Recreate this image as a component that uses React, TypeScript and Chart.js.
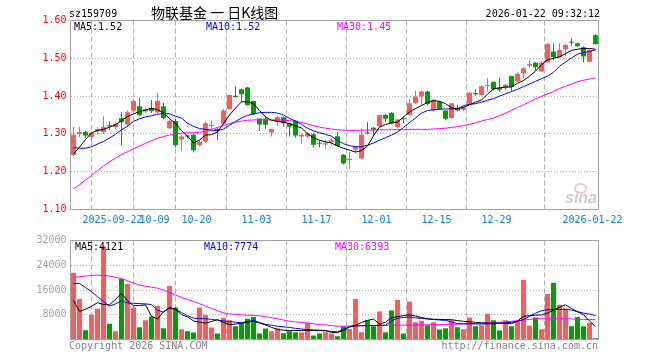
import React, { useEffect, useRef } from "react";
import { Chart, registerables } from "chart.js";

Chart.register(...registerables);

// ---------------- data ----------------
const DATES = [
  "2025-09-11","2025-09-12","2025-09-15","2025-09-16","2025-09-17","2025-09-18","2025-09-19",
  "2025-09-22","2025-09-23","2025-09-24","2025-09-25","2025-09-26","2025-09-29","2025-09-30",
  "2025-10-09","2025-10-10","2025-10-13","2025-10-14","2025-10-15","2025-10-16","2025-10-17",
  "2025-10-20","2025-10-21","2025-10-22","2025-10-23","2025-10-24","2025-10-27","2025-10-28","2025-10-29","2025-10-30","2025-10-31",
  "2025-11-03","2025-11-04","2025-11-05","2025-11-06","2025-11-07","2025-11-10","2025-11-11","2025-11-12","2025-11-13","2025-11-14",
  "2025-11-17","2025-11-18","2025-11-19","2025-11-20","2025-11-21","2025-11-24","2025-11-25","2025-11-26","2025-11-27","2025-11-28",
  "2025-12-01","2025-12-02","2025-12-03","2025-12-04","2025-12-05","2025-12-08","2025-12-09","2025-12-10","2025-12-11","2025-12-12",
  "2025-12-15","2025-12-16","2025-12-17","2025-12-18","2025-12-19","2025-12-22","2025-12-23","2025-12-24","2025-12-25","2025-12-26",
  "2025-12-29","2025-12-30","2025-12-31",
  "2026-01-05","2026-01-06","2026-01-07","2026-01-08","2026-01-09","2026-01-12","2026-01-13","2026-01-14","2026-01-15","2026-01-16",
  "2026-01-19","2026-01-20","2026-01-21","2026-01-22",
];

const OPEN = [
  1.244,1.300,1.305,1.292,1.307,1.305,1.321,1.318,1.342,1.325,
  1.361,1.373,1.359,1.368,1.357,1.373,1.315,1.334,1.285,1.296,
  1.298,1.270,1.280,1.321,1.313,1.327,1.366,1.401,1.418,1.423,
  1.387,1.341,1.341,1.304,1.332,1.344,1.328,1.335,1.293,1.293,
  1.299,1.275,1.272,1.278,1.294,1.245,1.231,1.258,1.235,1.303,
  1.316,1.320,1.350,1.356,1.318,1.341,1.350,1.382,1.399,1.412,
  1.362,1.385,1.362,1.342,1.368,1.364,1.380,1.408,1.403,1.427,
  1.437,1.422,1.421,1.453,1.439,1.461,1.481,1.488,1.465,1.489,
  1.518,1.503,1.523,1.543,1.540,1.529,1.491,1.561,
];
const HIGH = [
  1.318,1.318,1.308,1.306,1.318,1.347,1.333,1.331,1.357,1.362,
  1.392,1.395,1.370,1.390,1.408,1.382,1.337,1.340,1.296,1.298,
  1.300,1.283,1.334,1.336,1.316,1.366,1.405,1.426,1.420,1.425,
  1.388,1.341,1.348,1.313,1.348,1.346,1.330,1.337,1.302,1.306,
  1.302,1.284,1.284,1.288,1.305,1.246,1.252,1.267,1.314,1.331,
  1.318,1.350,1.353,1.357,1.340,1.347,1.392,1.414,1.415,1.415,
  1.391,1.388,1.362,1.381,1.377,1.374,1.411,1.418,1.428,1.447,
  1.439,1.450,1.432,1.454,1.463,1.476,1.496,1.490,1.491,1.540,
  1.540,1.540,1.538,1.553,1.542,1.531,1.525,1.564,
];
const LOW = [
  1.241,1.292,1.290,1.280,1.299,1.300,1.310,1.312,1.270,1.318,
  1.358,1.347,1.355,1.355,1.354,1.338,1.313,1.264,1.254,1.288,
  1.251,1.268,1.276,1.314,1.284,1.325,1.364,1.396,1.385,1.375,
  1.350,1.308,1.313,1.293,1.321,1.319,1.293,1.290,1.274,1.289,
  1.264,1.264,1.260,1.270,1.266,1.219,1.207,1.250,1.233,1.299,
  1.294,1.318,1.331,1.326,1.315,1.329,1.349,1.379,1.375,1.375,
  1.359,1.364,1.336,1.340,1.359,1.360,1.377,1.400,1.402,1.412,
  1.415,1.412,1.415,1.412,1.437,1.447,1.476,1.468,1.463,1.488,
  1.494,1.500,1.505,1.533,1.529,1.489,1.490,1.536,
];
const CLOSE = [
  1.298,1.305,1.296,1.303,1.313,1.318,1.320,1.327,1.331,1.357,
  1.387,1.350,1.366,1.360,1.388,1.342,1.334,1.270,1.293,1.293,
  1.257,1.279,1.328,1.324,1.309,1.362,1.403,1.397,1.405,1.376,
  1.352,1.325,1.324,1.313,1.344,1.328,1.319,1.296,1.297,1.302,
  1.271,1.274,1.275,1.283,1.268,1.222,1.234,1.266,1.298,1.301,
  1.311,1.350,1.340,1.328,1.338,1.339,1.381,1.399,1.412,1.379,
  1.391,1.366,1.340,1.381,1.362,1.370,1.409,1.405,1.426,1.429,
  1.418,1.417,1.430,1.424,1.459,1.474,1.485,1.476,1.489,1.538,
  1.503,1.522,1.535,1.541,1.532,1.505,1.522,1.538,
];
const MA5 = [
  1.247,1.265,1.285,1.303,1.309,1.312,1.318,1.324,1.335,1.346,
  1.353,1.359,1.363,1.368,1.364,1.356,1.340,1.328,1.309,1.294,
  1.276,1.284,1.297,1.298,1.305,1.327,1.350,1.368,1.385,1.385,
  1.380,1.362,1.345,1.336,1.333,1.331,1.327,1.321,1.316,1.300,
  1.290,1.283,1.279,1.276,1.268,1.262,1.257,1.252,1.256,1.268,
  1.295,1.318,1.325,1.329,1.331,1.345,1.358,1.367,1.375,1.383,
  1.388,1.386,1.380,1.369,1.367,1.370,1.377,1.384,1.390,1.405,
  1.419,1.422,1.424,1.424,1.434,1.441,1.453,1.466,1.483,1.496,
  1.500,1.504,1.512,1.521,1.524,1.526,1.526,1.524,
];
const MA10 = [
  1.264,1.262,1.262,1.266,1.273,1.280,1.289,1.299,1.311,1.320,
  1.333,1.340,1.345,1.348,1.352,1.354,1.353,1.347,1.342,1.328,
  1.320,1.314,1.312,1.310,1.308,1.313,1.323,1.333,1.342,1.349,
  1.353,1.356,1.357,1.357,1.355,1.350,1.341,1.334,1.325,1.315,
  1.308,1.303,1.299,1.294,1.282,1.274,1.269,1.266,1.266,1.270,
  1.276,1.283,1.290,1.297,1.305,1.317,1.330,1.342,1.355,1.362,
  1.364,1.365,1.366,1.366,1.366,1.375,1.378,1.380,1.384,1.389,
  1.393,1.400,1.406,1.412,1.418,1.425,1.432,1.439,1.446,1.453,
  1.463,1.479,1.490,1.501,1.511,1.515,1.518,1.522,
];
const MA30 = [
  1.155,1.165,1.178,1.190,1.203,1.215,1.226,1.236,1.245,1.253,
  1.261,1.268,1.275,1.282,1.288,1.293,1.297,1.300,1.302,1.303,
  1.303,1.304,1.307,1.312,1.317,1.322,1.327,1.331,1.334,1.336,
  1.337,1.337,1.337,1.337,1.337,1.336,1.335,1.333,1.330,1.326,
  1.322,1.318,1.315,1.313,1.311,1.310,1.309,1.309,1.310,1.310,
  1.310,1.311,1.311,1.311,1.311,1.311,1.312,1.312,1.312,1.312,
  1.313,1.314,1.315,1.317,1.319,1.322,1.325,1.329,1.334,1.338,
  1.342,1.348,1.355,1.362,1.370,1.377,1.385,1.392,1.399,1.406,
  1.412,1.420,1.426,1.432,1.438,1.442,1.445,1.448,
];
const VOLUME = [
  21550,13120,2990,8000,9920,30090,5120,2670,19530,17920,
  10350,3950,6190,7470,10880,3630,17290,10350,3310,2670,
  2240,10350,7900,3840,1920,7040,6190,4270,5330,6720,
  7260,1920,3520,2670,3520,2030,2670,2350,2350,5330,
  1280,1920,2350,1920,1070,4270,3410,13120,2350,6190,
  4270,9070,2350,9390,12800,1920,12270,5550,6080,4590,
  5550,3200,3630,6190,3950,3310,7150,4270,4590,8320,
  6190,2880,6190,4270,5870,19200,4480,7150,3310,14720,
  18350,11200,9920,4270,7260,4270,5440,430,
];
const VOL_MA5 = [
  12600,9100,9800,10700,11900,11300,11200,13000,14900,12500,
  10900,11000,11200,7500,6600,9000,10100,9800,8000,7300,
  6000,5600,5300,5800,6400,5500,4800,5000,5300,5600,
  5900,5300,4700,3900,3300,3000,2900,2900,2900,2900,
  2900,3000,2900,2300,2200,3000,4000,4600,5500,6200,
  6600,5000,5600,7000,7400,7700,8000,7600,7100,6700,
  6550,6500,6450,6400,6100,5870,5700,5550,5400,5340,
  5300,5250,5200,5120,6000,7500,7700,7850,7950,8500,
  9500,10500,11200,10000,9000,8000,6000,4121,
];
const VOL_MA10 = [
  18100,18100,16800,15500,13800,12300,10800,11500,12500,11800,
  11700,11600,11500,11300,9500,8800,10300,9800,8700,7700,
  6900,6800,6700,6500,6300,6000,5800,5600,5400,5800,
  6200,5500,4900,4600,4300,4100,3900,3600,3400,3200,
  3100,2900,2800,2600,2450,3300,4200,4400,4450,4480,
  4520,4590,4600,6000,6900,7100,7260,7000,6800,6650,
  6450,6300,6190,5700,5150,5100,5050,5020,5000,5020,
  5100,5250,5400,5550,5900,6400,7500,8500,9300,9650,
  9700,9750,9800,9500,9000,8540,8200,7774,
];
const VOL_MA30 = [
  20100,20300,20500,20700,20800,20700,20500,20100,19700,19000,
  18300,17600,17200,16900,16600,16000,15100,14400,13600,12900,
  12300,11600,10800,10000,9300,8600,8300,8100,8000,7850,
  7750,7650,7350,7050,6700,6300,5900,5700,5500,5350,
  5100,4800,4700,4500,4300,4300,4350,4400,4450,4480,
  4500,4530,4560,4590,4620,4650,4680,4700,4730,4760,
  4790,4820,4850,4900,4950,5010,5100,5200,5300,5400,
  5500,5600,5750,5870,6100,6300,6500,6720,6720,6720,
  6720,6720,6720,6650,6550,6500,6450,6393,
];

const X_TICK_DATES = [
  "2025-09-22","2025-10-09","2025-10-20","2025-11-03","2025-11-17",
  "2025-12-01","2025-12-15","2025-12-29","2026-01-22",
];
const PRICE_TICKS = [1.1, 1.2, 1.3, 1.4, 1.5, 1.6];
const VOLUME_TICKS = [0, 8000, 16000, 24000, 32000];

const CODE = "sz159709";
const TITLE = "物联基金 一 日K线图";
const STAMP = "2026-01-22 09:32:12";
const PRICE_MA_TEXT = ["MA5:1.52", "MA10:1.52", "MA30:1.45"];
const VOL_MA_TEXT = ["MA5:4121", "MA10:7774", "MA30:6393"];
const COPYRIGHT = "Copyright 2026 SINA.COM";
const URL_TEXT = "http://finance.sina.com.cn";

// ---------------- styles ----------------
const RED = "#ff5a5a";
const GREEN = "#00a000";
const GRID = "#b0b0b0";
const FRAME = "#a0a0a0";
const MONO = "'DejaVu Sans Mono', 'Liberation Mono', monospace";
const LINE_COLORS = ["#000000", "#0000ff", "#ff00ff"];

const IDX = DATES.map((_, i) => i);
const isUp = (i: number) => CLOSE[i] >= OPEN[i];
const barColor = (c: any) => (isUp(c.dataIndex) ? RED : GREEN);

const framePlugin = {
  id: "frame",
  afterDraw(chart: any) {
    const { ctx, chartArea: a } = chart;
    const l = Math.floor(a.left) + 0.5;
    const r = Math.floor(a.right) + 0.5;
    const t = Math.floor(a.top) + 0.5;
    const b = Math.floor(a.bottom) + 0.5;
    ctx.save();
    ctx.strokeStyle = FRAME;
    ctx.lineWidth = 1;
    ctx.setLineDash([]);
    ctx.strokeRect(l, t, r - l, b - t);
    ctx.restore();
  },
};

function xScale(showLabels: boolean) {
  return {
    type: "linear",
    min: -0.5,
    max: DATES.length - 0.5,
    offset: false,
    afterBuildTicks: (s: any) => {
      s.ticks = X_TICK_DATES.map((d) => ({ value: DATES.indexOf(d) - 0.5 }));
    },
    afterFit: (s: any) => {
      s.height = showLabels ? 20.5 : 0;
    },
    ticks: {
      display: showLabels,
      autoSkip: false,
      maxRotation: 0,
      minRotation: 0,
      color: "#0a80d2",
      font: { family: MONO, size: 10 },
      padding: 5,
      callback: (v: any, k: number, arr: any[]) => {
        const d = DATES[Math.round(Number(v) + 0.5)];
        if (!d) return "";
        return k === 0 || k === arr.length - 1 ? d : d.slice(5);
      },
    },
    grid: { color: GRID, lineWidth: 1, drawTicks: false },
    border: { display: false, dash: [5, 3] },
  };
}

function lineSet(label: string, values: number[], color: string) {
  return {
    type: "line",
    label,
    data: IDX.map((i) => ({ x: i, y: values[i] })),
    borderColor: color,
    borderWidth: 1,
    pointRadius: 0,
    tension: 0,
    fill: false,
    order: 0,
  };
}

function priceConfig(): any {
  return {
    type: "bar",
    data: {
      datasets: [
        lineSet("MA5", MA5, LINE_COLORS[0]),
        lineSet("MA10", MA10, LINE_COLORS[1]),
        lineSet("MA30", MA30, LINE_COLORS[2]),
        {
          type: "bar",
          label: "body",
          data: IDX.map((i) => ({ x: i, y: [Math.min(OPEN[i], CLOSE[i]), Math.max(OPEN[i], CLOSE[i])] })),
          backgroundColor: barColor,
          borderWidth: 0,
          barThickness: 5,
          grouped: false,
          minBarLength: 1,
          inflateAmount: 0,
          order: 1,
        },
        {
          type: "bar",
          label: "wick",
          data: IDX.map((i) => ({ x: i, y: [LOW[i], HIGH[i]] })),
          backgroundColor: barColor,
          borderWidth: 0,
          barThickness: 1,
          grouped: false,
          inflateAmount: 0,
          order: 2,
        },
      ],
    },
    options: {
      responsive: false,
      animation: false,
      devicePixelRatio: 1,
      events: [],
      layout: { padding: { left: 0, right: 61.5, top: 20.5, bottom: 0 } },
      plugins: { legend: { display: false }, tooltip: { enabled: false }, title: { display: false } },
      scales: {
        x: xScale(true),
        y: {
          type: "linear",
          min: 1.1,
          max: 1.6,
          afterBuildTicks: (s: any) => {
            s.ticks = PRICE_TICKS.map((v) => ({ value: v }));
          },
          afterFit: (s: any) => {
            s.width = 70.5;
          },
          ticks: {
            color: "#ff0000",
            font: { family: MONO, size: 10 },
            padding: 4,
            callback: (v: any) => Number(v).toFixed(2),
          },
          grid: { color: GRID, lineWidth: 1, drawTicks: false },
          border: { display: false, dash: [1, 2] },
        },
      },
    },
    plugins: [framePlugin],
  };
}

function volumeConfig(): any {
  return {
    type: "bar",
    data: {
      datasets: [
        lineSet("MA5", VOL_MA5, LINE_COLORS[0]),
        lineSet("MA10", VOL_MA10, LINE_COLORS[1]),
        lineSet("MA30", VOL_MA30, LINE_COLORS[2]),
        {
          type: "bar",
          label: "volume",
          data: IDX.map((i) => ({ x: i, y: VOLUME[i] })),
          backgroundColor: barColor,
          borderWidth: 0,
          barThickness: 5,
          grouped: false,
          inflateAmount: 0,
          order: 1,
        },
      ],
    },
    options: {
      responsive: false,
      animation: false,
      devicePixelRatio: 1,
      events: [],
      layout: { padding: { left: 0, right: 61.5, top: 10.5, bottom: 20.5 } },
      plugins: { legend: { display: false }, tooltip: { enabled: false }, title: { display: false } },
      scales: {
        x: xScale(false),
        y: {
          type: "linear",
          min: 0,
          max: 32000,
          afterBuildTicks: (s: any) => {
            s.ticks = VOLUME_TICKS.map((v) => ({ value: v }));
          },
          afterFit: (s: any) => {
            s.width = 70.5;
          },
          ticks: {
            color: "#a0a0a0",
            font: { family: MONO, size: 10 },
            padding: 4,
            callback: (v: any) => (Number(v) === 0 ? "" : String(v)),
          },
          grid: { color: GRID, lineWidth: 1, drawTicks: false },
          border: { display: false, dash: [1, 2] },
        },
      },
    },
    plugins: [framePlugin],
  };
}

function Txt(props: { text: string; left?: number; right?: number; top: number; color?: string; size?: number; family?: string; style?: any }) {
  const { text, left, right, top, color = "#000", size = 10, family = MONO, style = {} } = props;
  return (
    <div
      style={{
        position: "absolute",
        left,
        right,
        top,
        color,
        fontFamily: family,
        fontSize: size,
        lineHeight: `${size}px`,
        whiteSpace: "pre",
        ...style,
      }}
    >
      {text}
    </div>
  );
}

export default function App() {
  const priceRef = useRef<HTMLCanvasElement>(null);
  const volRef = useRef<HTMLCanvasElement>(null);

  useEffect(() => {
    const c1 = new Chart(priceRef.current as HTMLCanvasElement, priceConfig());
    const c2 = new Chart(volRef.current as HTMLCanvasElement, volumeConfig());
    return () => {
      c1.destroy();
      c2.destroy();
    };
  }, []);

  return (
    <div style={{ position: "fixed", left: 0, top: 0, width: 660, height: 360, background: "#fff", overflow: "hidden" }}>
      <canvas ref={priceRef} width={660} height={230} style={{ position: "absolute", left: 0, top: 0, width: 660, height: 230 }} />
      <canvas ref={volRef} width={660} height={130} style={{ position: "absolute", left: 0, top: 230, width: 660, height: 130 }} />

      <Txt text={CODE} left={69} top={8.5} />
      <Txt text={TITLE} left={151} top={5} size={14} family="'Noto Sans CJK SC', sans-serif" />
      <Txt text={STAMP} right={60} top={8.5} />

      <Txt text={PRICE_MA_TEXT[0]} left={74} top={22} color={LINE_COLORS[0]} />
      <Txt text={PRICE_MA_TEXT[1]} left={206} top={22} color={LINE_COLORS[1]} />
      <Txt text={PRICE_MA_TEXT[2]} left={337} top={22} color={LINE_COLORS[2]} />

      <Txt text={VOL_MA_TEXT[0]} left={75} top={241.5} color={LINE_COLORS[0]} />
      <Txt text={VOL_MA_TEXT[1]} left={204} top={241.5} color={LINE_COLORS[1]} />
      <Txt text={VOL_MA_TEXT[2]} left={335} top={241.5} color={LINE_COLORS[2]} />

      <Txt text={COPYRIGHT} left={69} top={341} color="#808080" />
      <Txt text={URL_TEXT} right={62} top={341} color="#808080" />

      <div style={{ position: "absolute", left: 574, top: 183, width: 9, height: 7, border: "2px solid #f6b8b8", borderRadius: "50%", opacity: 0.8 }} />
      <Txt text="sina" left={565} top={191} size={16} color="#cfcfcf" family="'Liberation Sans', sans-serif" style={{ fontStyle: "italic", fontWeight: 700, lineHeight: "14px" }} />
    </div>
  );
}
